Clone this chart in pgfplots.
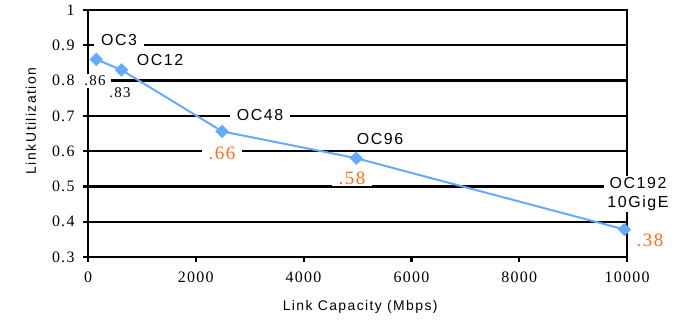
\documentclass[border=0pt]{standalone}
\usepackage{pgfplots}
\pgfplotsset{compat=1.18}
\usepackage{fontspec}
\setmainfont[LetterSpace=10]{Liberation Sans}
\newfontfamily\tnr[LetterSpace=8]{Liberation Serif}
\definecolor{lineblue}{RGB}{100,170,255}
\definecolor{valorange}{RGB}{255,110,30}
\begin{document}
\begin{tikzpicture}
\path[use as bounding box] (-88bp,-63bp) rectangle (589bp,257bp);
\begin{axis}[
  at={(0,0)}, anchor=south west,
  scale only axis,
  width=539bp, height=247bp,
  xmin=0, xmax=10000, ymin=0.3, ymax=1,
  xtick={0,2000,4000,6000,8000,10000},
  ytick={0.3,0.4,0.5,0.6,0.7,0.8,0.9,1},
  scaled x ticks=false,
  /pgf/number format/1000 sep={},
  /pgf/number format/assume math mode=true,
  yticklabel style={/pgf/number format/fixed, /pgf/number format/precision=1, xshift=-5bp},
  xticklabel style={yshift=-6bp},
  every tick label/.append style={font=\tnr\fontsize{16}{16}\selectfont},
  tick align=outside,
  major tick length=5bp,
  tick style={black, line width=2.2bp},
  xtick pos=bottom, ytick pos=left,
  axis line style={black, line width=2.5bp},
  ymajorgrids,
  major grid style={black, line width=2.2bp},
  clip=false,
  xlabel={Link Capacity (Mbps)},
  ylabel={Link\,Utilization},
  every axis label/.append style={font=\fontsize{14}{15}\selectfont},
  xlabel style={at={(axis description cs:0.505,-0.2)}, anchor=center},
  ylabel style={at={(axis description cs:-0.106,0.55)}, anchor=center, rotate=0},
]
\addplot[lineblue, line width=2bp, mark=square*, mark size=4.5bp,
  mark options={rotate=45, fill=lineblue, draw=lineblue, line width=0.5bp}]
  coordinates {(155,0.86) (622,0.83) (2488,0.656) (4976,0.58) (9953,0.378)};
\tikzset{lbl/.style={fill=white, inner xsep=7bp, inner ysep=1.5bp, font=\fontsize{16}{17}\selectfont}}
\tikzset{val/.style={fill=white, inner xsep=5bp, inner ysep=1.5bp, font=\tnr\fontsize{15}{15}\selectfont}}
\tikzset{oval/.style={fill=white, inner xsep=7bp, inner ysep=1.5bp, text=valorange, font=\tnr\fontsize{19}{19}\selectfont}}
\node[lbl] at (axis cs:575,0.915) {OC3};
\node[lbl] at (axis cs:1336,0.858) {OC12};
\node[val] at (axis cs:130,0.799) {.86};
\node[val] at (axis cs:594,0.765) {.83};
\node[lbl] at (axis cs:3191,0.702) {OC48};
\node[oval] at (axis cs:2486,0.595) {.66};
\node[lbl,fill=none] at (axis cs:5417,0.634) {OC96};
\node[oval] at (axis cs:4898,0.524) {.58};
\node[lbl, align=center, inner xsep=3bp] at (axis cs:10204,0.479) {OC192\\[2bp]10GigE};
\node[oval, fill=none] at (axis cs:10427,0.348) {.38};
\end{axis}
\end{tikzpicture}
\end{document}
